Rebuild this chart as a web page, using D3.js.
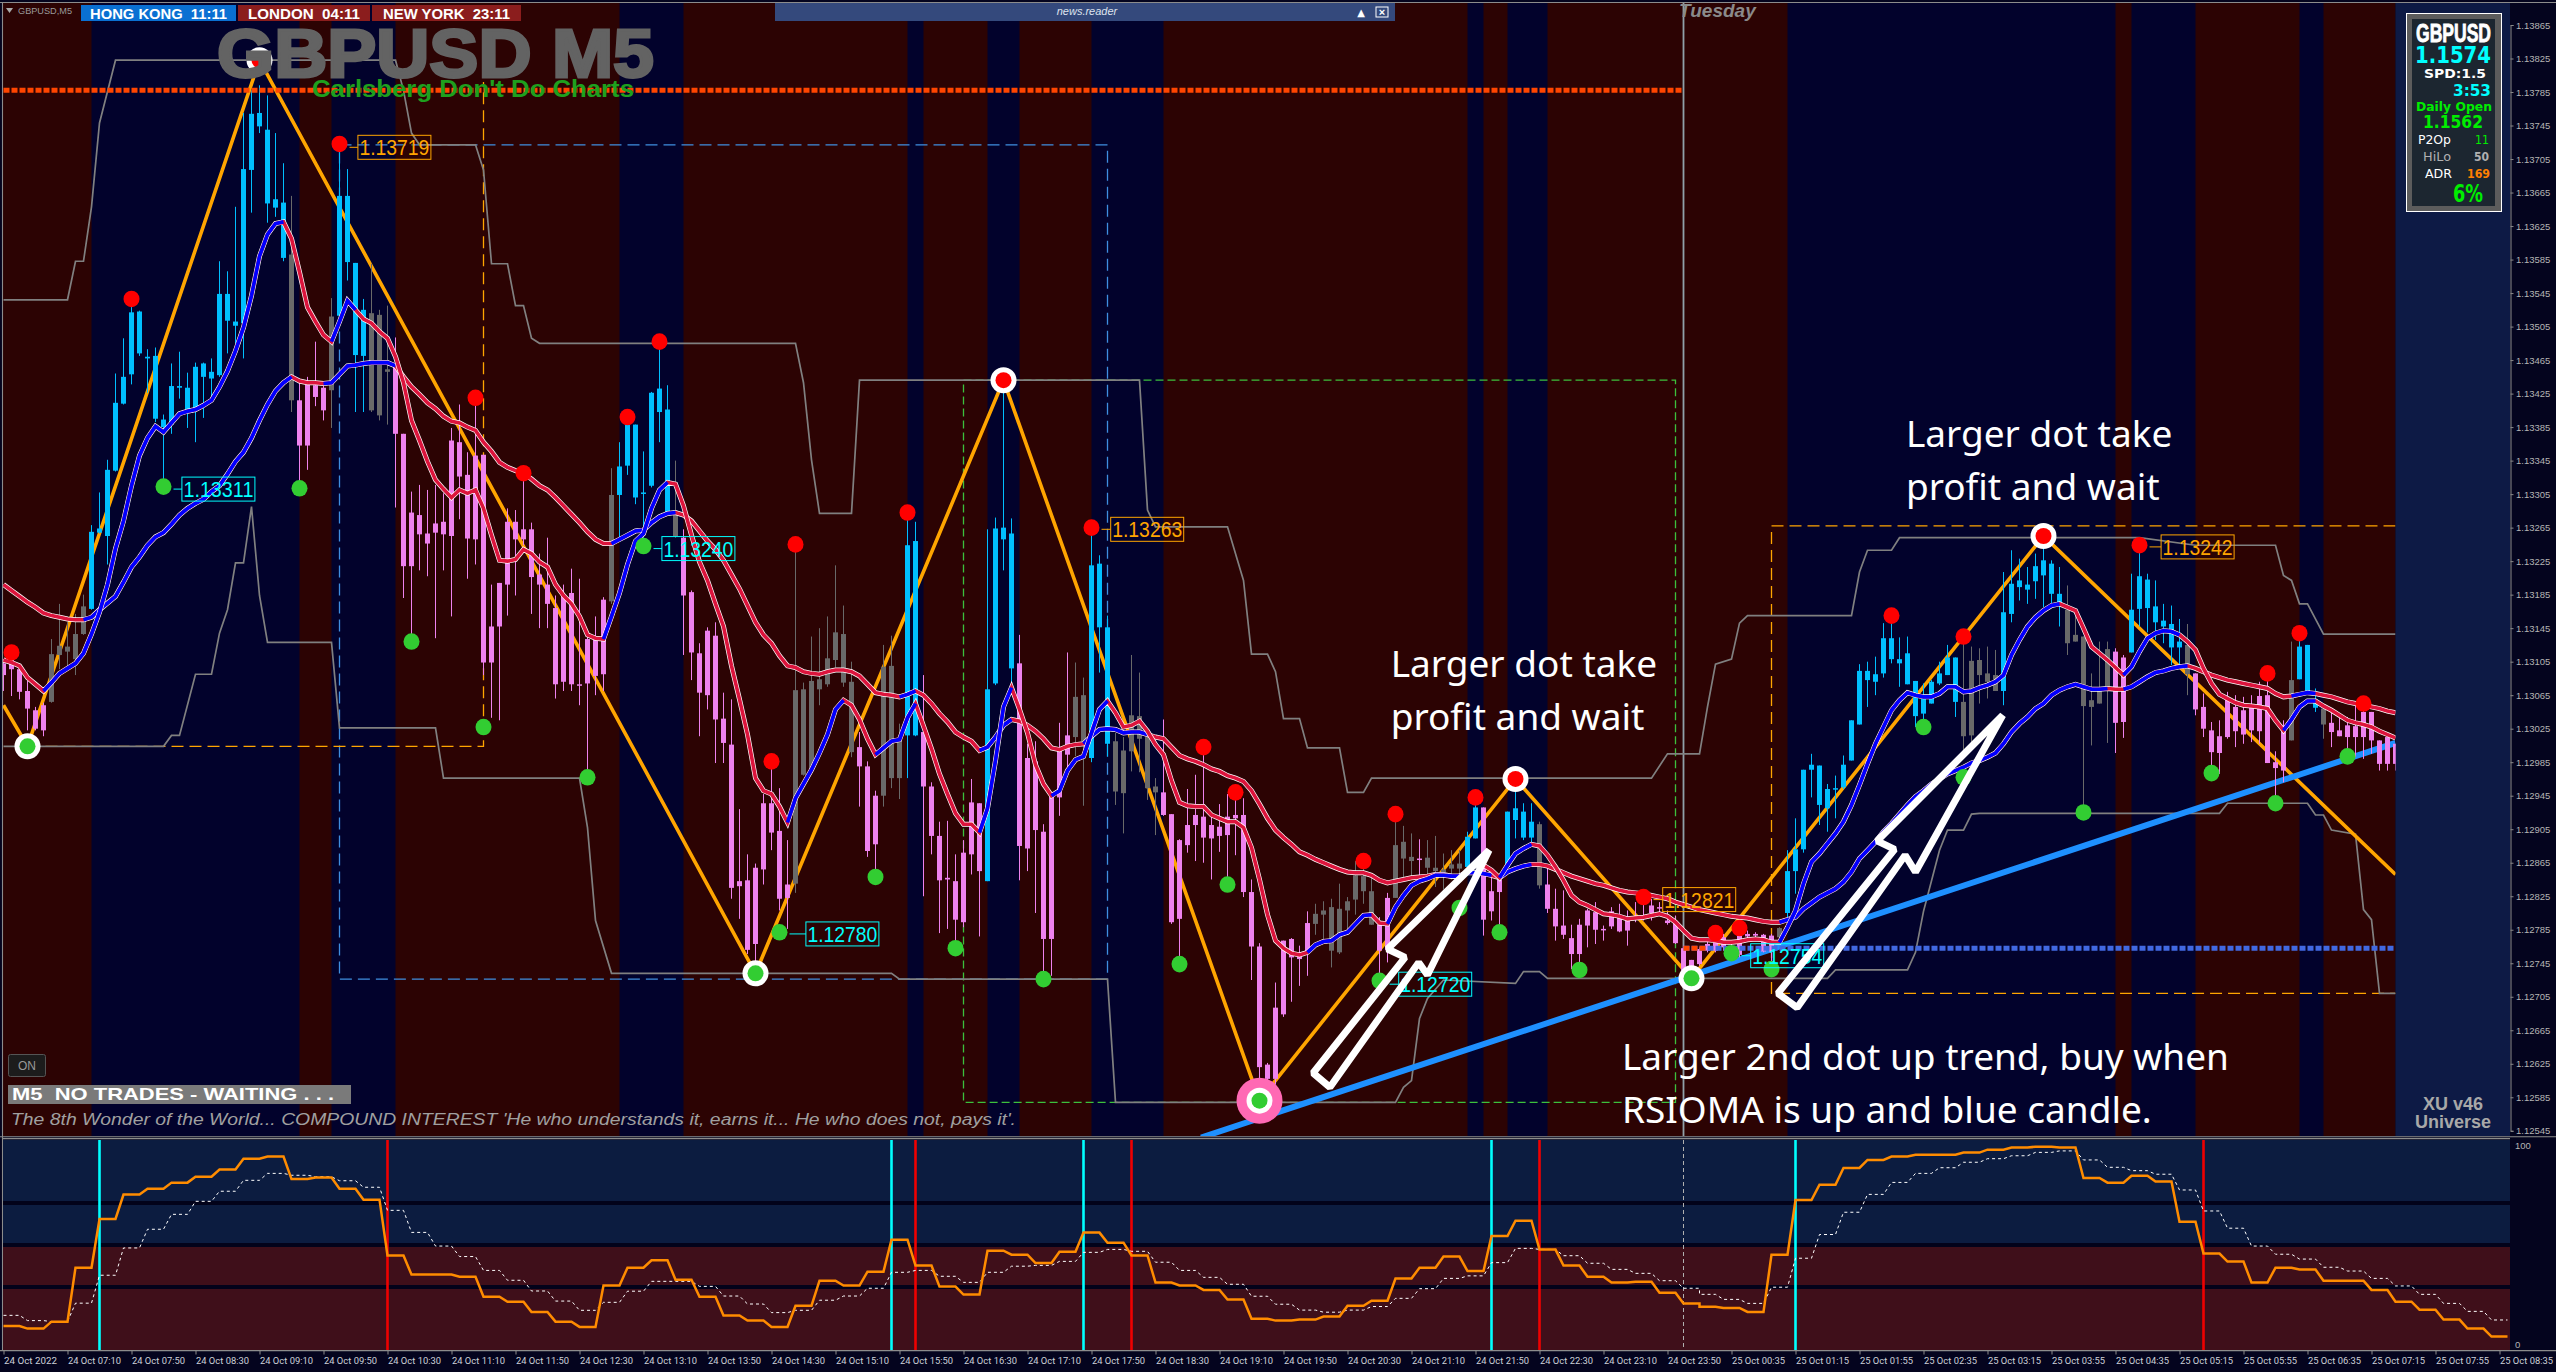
<!DOCTYPE html>
<html><head><meta charset="utf-8">
<script src="https://cdnjs.cloudflare.com/ajax/libs/d3/7.8.5/d3.min.js"></script>
<style>html,body{margin:0;padding:0;background:#04041e;overflow:hidden}svg{display:block}</style>
</head><body><svg id="c" width="2556" height="1372"></svg>
<script>
// All price arrays are in points above 1.10000 (1 point = 0.00001)
const bodyTop=[3103,3112,3096,3070,3047,3053,3114,3124,3123,3138,
3171,3260,3264,3334,3414,3445,3522,3523,3469,3470,
3394,3434,3434,3432,3457,3461,3451,3544,3544,3511,
3693,3759,3760,3740,3657,3653,3591,3417,3436,3435,
3432,3517,3661,3661,3581,3525,3521,3519,3454,3457,
3377,3283,3280,3258,3270,3272,3369,3367,3328,3351,
3352,3147,3199,3272,3272,3263,3263,3209,3197,3169,
3184,3187,3078,3132,3132,3179,3304,3338,3388,3388,
3307,3426,3431,3406,3283,3253,3188,3115,3142,3136,
3037,3006,2843,2844,2859,2936,2936,2903,2839,3071,
3072,3082,3084,3109,3140,3138,3081,3003,2980,2945,
3099,3100,3011,3244,3249,3021,2956,2897,2847,2843,
2877,2937,2936,3072,3264,3265,3258,3103,2990,2986,
2902,2944,3001,3017,3063,3065,3220,3222,3146,3010,
2999,3041,3040,3015,2956,2949,2923,2892,2910,2922,
2920,2910,2908,2920,2922,2922,2830,2765,2624,2692,
2772,2774,2758,2793,2804,2808,2812,2810,2819,2850,
2849,2831,2791,2823,2886,2890,2872,2870,2871,2859,
2857,2863,2864,2896,2931,2931,2831,2845,2926,2930,
2926,2914,2911,2839,2810,2790,2775,2791,2808,2806,
2786,2807,2800,2796,2799,2800,2814,2812,2796,2794,
2763,2749,2762,2768,2777,2776,2764,2778,2780,2780,
2779,2778,2787,2855,2881,2976,2982,2981,2953,2954,
2982,3035,3094,3094,3090,3133,3133,3108,3115,3082,
3061,3081,3091,3110,3110,3057,3106,3107,3091,3089,
3164,3198,3202,3197,3219,3226,3222,3186,3167,3137,
3135,3059,3072,3120,3117,3110,3167,3207,3203,3171,
3154,3150,3129,3125,3091,3051,3023,3016,3061,3051,
3047,3053,3064,3065,2985,3022,3083,3123,3125,3059,
3049,3032,3023,3029,3028,3045,3045,3011,3015,3007];
const bodyBottom=[3089,3096,3069,3049,3025,3023,3057,3113,3117,3108,
3138,3168,3259,3255,3333,3413,3448,3473,3467,3395,
3385,3388,3432,3406,3408,3445,3443,3447,3512,3506,
3509,3692,3744,3652,3647,3587,3417,3363,3363,3421,
3405,3429,3518,3582,3471,3470,3405,3399,3451,3377,
3219,3219,3257,3246,3259,3257,3255,3326,3252,3251,
3104,3104,3147,3197,3251,3251,3206,3197,3174,3078,
3081,3078,3077,3079,3088,3090,3177,3304,3339,3301,
3306,3315,3403,3283,3255,3184,3116,3068,3065,3036,
3008,2835,2837,2761,2768,2857,2901,2822,2823,2840,
2970,2976,3072,3078,3107,3080,2997,2980,2879,2887,
2945,2966,2966,3017,3017,2956,2897,2844,2845,2797,
2794,2875,2855,2843,3079,3251,3097,2885,2882,2904,
2774,2774,2943,2994,3015,3010,2990,3146,3007,2950,
2948,2998,3013,2954,2949,2922,2794,2798,2886,2910,
2895,2894,2897,2898,2918,2830,2765,2621,2607,2607,
2684,2752,2750,2757,2792,2803,2760,2758,2808,2821,
2831,2791,2760,2761,2823,2870,2867,2869,2859,2855,
2854,2858,2858,2860,2894,2797,2807,2830,2860,2916,
2895,2895,2838,2810,2789,2779,2756,2756,2790,2785,
2785,2789,2783,2784,2797,2798,2805,2811,2793,2769,
2736,2736,2744,2760,2760,2764,2755,2755,2777,2778,
2759,2759,2776,2805,2855,2881,2976,2934,2930,2953,
2955,2987,3030,3083,3081,3091,3108,3103,3078,3040,
3043,3055,3079,3089,3057,3016,3017,3089,3081,3070,
3070,3162,3194,3191,3201,3208,3186,3174,3127,3129,
3052,3051,3055,3071,3032,3033,3116,3168,3169,3152,
3147,3122,3122,3090,3048,3025,2997,2996,3015,3022,
3018,3023,3022,2984,2978,2975,3011,3084,3069,3050,
3030,3021,3016,3015,3015,3015,3011,2983,2983,2983];
const candleHigh=[3108,3116,3103,3082,3051,3056,3132,3174,3152,3162,
3185,3268,3307,3346,3449,3491,3537,3524,3478,3480,
3400,3461,3475,3450,3462,3462,3467,3583,3571,3648,
3760,3787,3793,3781,3736,3700,3661,3438,3445,3487,
3438,3539,3721,3693,3581,3538,3580,3525,3530,3492,
3377,3308,3316,3310,3316,3306,3384,3412,3355,3419,
3352,3197,3199,3288,3286,3328,3271,3234,3253,3184,
3197,3216,3204,3140,3159,3182,3336,3367,3395,3388,
3356,3427,3486,3435,3345,3263,3190,3127,3146,3152,
3068,3060,2929,2875,2864,2947,2986,2954,2892,3244,
3080,3135,3145,3159,3220,3172,3105,3021,2986,2951,
3125,3136,3031,3281,3272,3089,2961,2914,2915,2875,
2892,2965,2936,3263,3277,3444,3276,3137,3007,3010,
2911,2944,3032,3116,3104,3086,3265,3232,3160,3020,
3015,3113,3092,3015,2966,3036,2923,2893,2953,2970,
3001,2923,2935,2947,2949,2942,2845,2769,2626,2722,
2772,2775,2766,2807,2816,2819,2822,2840,2824,2867,
2867,2848,2800,2829,2921,2909,2900,2893,2892,2897,
2876,2880,2880,2902,2941,2931,2852,2848,2926,2963,
2936,2936,2914,2862,2834,2832,2791,2798,2810,2818,
2790,2812,2816,2808,2818,2832,2822,2818,2808,2802,
2766,2749,2764,2772,2780,2780,2772,2784,2784,2782,
2780,2780,2788,2880,2918,2976,2995,2981,2959,2969,
2993,3035,3102,3105,3111,3151,3160,3134,3135,3082,
3079,3083,3105,3125,3110,3135,3123,3121,3123,3119,
3212,3238,3228,3218,3234,3250,3226,3218,3196,3168,
3135,3091,3129,3129,3121,3113,3210,3244,3210,3202,
3174,3172,3156,3150,3091,3067,3033,3035,3069,3065,
3063,3065,3081,3095,2998,3035,3129,3139,3125,3073,
3053,3045,3039,3039,3053,3063,3045,3011,3015,3007];
const candleLow=[3070,3064,3060,3023,3023,3016,3056,3096,3099,3089,
3137,3167,3258,3221,3332,3412,3436,3470,3426,3391,
3313,3377,3419,3384,3367,3396,3419,3445,3473,3485,
3467,3641,3736,3629,3636,3583,3403,3315,3334,3410,
3393,3384,3509,3560,3403,3403,3403,3393,3388,3289,
3181,3133,3214,3207,3133,3214,3159,3275,3204,3221,
3089,3038,3035,3160,3184,3244,3162,3145,3145,3061,
3070,3070,3053,2976,3065,3070,3174,3249,3328,3293,
3253,3313,3367,3281,3253,3113,3083,3016,3048,2984,
2984,2822,2798,2756,2736,2839,2880,2808,2786,2829,
2969,2974,3053,3075,3098,3075,2991,2932,2872,2848,
2932,2954,2941,2966,3016,2825,2875,2781,2786,2763,
2788,2851,2777,2843,3077,3214,3074,2844,2855,2805,
2734,2730,2921,2969,2992,2933,2985,3092,2992,2934,
2900,2974,2973,2940,2898,2921,2792,2753,2877,2867,
2865,2845,2878,2848,2874,2824,2725,2593,2595,2600,
2681,2699,2718,2730,2779,2772,2740,2756,2779,2803,
2816,2791,2732,2746,2823,2848,2848,2850,2850,2836,
2833,2845,2848,2858,2894,2778,2796,2782,2852,2894,
2892,2888,2834,2805,2772,2774,2738,2738,2764,2768,
2772,2786,2782,2766,2794,2796,2796,2804,2791,2768,
2736,2727,2742,2758,2758,2760,2752,2752,2774,2774,
2758,2738,2772,2800,2828,2877,2943,2910,2902,2918,
2953,2987,3030,3051,3065,3086,3103,3075,3078,3027,
3023,3055,3077,3089,3039,2995,3007,3055,3061,3070,
3053,3152,3178,3174,3180,3170,3170,3147,3113,3129,
2924,3005,3055,3008,2996,3014,3116,3147,3140,3131,
3127,3101,3101,3065,3041,3015,2967,2971,3013,3003,
3007,3009,3007,2984,2936,2961,3011,3084,3069,3045,
3013,3003,3016,2987,2991,2989,2995,2975,2975,2975];
const candleTrendRuns=[["d",6],["n",5],["u",25],["n",1],["d",4],["n",1],["u",4],["n",3],["d",27],["n",1],["u",7],["n",1],["d",14],["n",8],["d",3],["n",3],["u",2],["d",8],["u",4],["d",7],["n",2],["u",3],["n",6],["d",19],["n",8],["d",2],["n",3],["d",1],["n",5],["u",2],["d",3],["u",4],["n",1],["d",29],["n",1],["u",22],["n",5],["u",8],["n",6],["d",2],["u",7],["n",1],["d",12],["n",1],["u",3],["n",1],["d",9]];
const fastMA=[3107,3104,3100,3086,3078,3070,3080,3091,3097,3103,
3115,3138,3164,3197,3240,3273,3315,3351,3372,3386,
3379,3390,3401,3404,3406,3411,3417,3433,3452,3476,
3504,3542,3589,3615,3628,3630,3610,3570,3528,3511,
3495,3487,3511,3536,3525,3514,3509,3499,3491,3469,
3438,3393,3369,3344,3322,3311,3301,3310,3306,3310,
3288,3256,3226,3225,3227,3239,3234,3224,3218,3197,
3184,3174,3159,3137,3133,3132,3159,3187,3221,3249,
3258,3288,3310,3319,3317,3291,3256,3224,3202,3174,
3147,3100,3060,3018,2966,2951,2947,2932,2913,2942,
2959,2976,2996,3018,3048,3059,3053,3036,3013,2994,
3002,3010,3012,3038,3055,3028,3001,2971,2947,2924,
2911,2911,2901,2930,2987,3051,3074,3048,3020,2982,
2959,2945,2951,2975,2988,2992,3020,3048,3058,3044,
3027,3029,3034,3022,3006,2994,2963,2937,2933,2932,
2932,2922,2918,2914,2914,2907,2883,2845,2803,2772,
2763,2757,2755,2758,2767,2771,2772,2779,2782,2792,
2802,2803,2793,2792,2812,2826,2838,2843,2846,2850,
2850,2849,2849,2854,2862,2862,2856,2847,2862,2876,
2882,2887,2885,2874,2860,2844,2826,2818,2814,2809,
2804,2803,2801,2798,2799,2800,2802,2804,2801,2794,
2784,2775,2773,2773,2772,2770,2770,2771,2773,2774,
2773,2770,2770,2788,2808,2840,2866,2876,2888,2900,
2914,2934,2958,2983,3007,3027,3047,3059,3068,3065,
3063,3063,3067,3075,3075,3069,3070,3074,3077,3081,
3089,3113,3131,3147,3158,3166,3172,3174,3170,3166,
3145,3123,3115,3107,3098,3089,3099,3117,3133,3139,
3142,3141,3137,3129,3119,3097,3079,3066,3061,3056,
3053,3052,3051,3049,3035,3023,3036,3051,3058,3058,
3052,3047,3041,3035,3032,3030,3027,3022,3018,3014];
const slowMA=[3197,3190,3183,3176,3170,3163,3160,3158,3156,3155,
3155,3158,3167,3175,3183,3200,3218,3230,3244,3254,
3259,3269,3280,3288,3294,3299,3308,3315,3329,3344,
3355,3372,3393,3412,3428,3438,3445,3440,3438,3438,
3437,3438,3448,3458,3459,3461,3462,3462,3462,3458,
3445,3433,3424,3414,3407,3398,3392,3390,3385,3381,
3367,3356,3343,3337,3333,3330,3323,3315,3310,3301,
3291,3281,3271,3260,3251,3246,3246,3251,3256,3261,
3262,3271,3278,3282,3283,3280,3273,3261,3249,3239,
3226,3209,3192,3172,3152,3137,3127,3112,3100,3098,
3093,3091,3090,3093,3095,3095,3093,3088,3078,3068,
3066,3065,3063,3066,3070,3065,3055,3043,3033,3021,
3015,3010,2999,3003,3015,3029,3036,3034,3029,3022,
3013,3002,3000,3004,3006,3007,3016,3024,3025,3024,
3020,3021,3021,3018,3015,3013,3003,2993,2989,2986,
2982,2977,2974,2969,2966,2962,2951,2935,2918,2904,
2895,2887,2878,2874,2869,2865,2861,2857,2854,2853,
2853,2850,2844,2841,2843,2845,2847,2848,2849,2851,
2851,2849,2849,2853,2853,2852,2850,2847,2854,2858,
2861,2863,2863,2861,2857,2853,2849,2846,2843,2840,
2838,2835,2832,2830,2829,2828,2826,2824,2822,2818,
2815,2812,2809,2807,2805,2803,2801,2800,2799,2797,
2795,2794,2794,2797,2800,2810,2817,2824,2829,2834,
2842,2854,2870,2880,2890,2902,2912,2923,2934,2944,
2951,2959,2965,2971,2975,2979,2984,2987,2991,2996,
3007,3021,3031,3039,3049,3055,3065,3071,3075,3078,
3075,3072,3072,3073,3072,3072,3075,3081,3087,3092,
3094,3097,3099,3100,3097,3093,3089,3086,3083,3081,
3079,3077,3075,3073,3067,3063,3064,3066,3068,3067,
3065,3063,3060,3057,3055,3053,3051,3049,3046,3044];
const fastUpSpans=[[5,35],[41,44],[75,83],[98,105],[109,114],[122,126],[131,138],[163,171],[173,185],[187,191],[222,257],[265,272],[285,289]];
const slowUpSpans=[[10,36],[40,49],[76,84],[112,114],[122,126],[135,143],[179,186],[187,191],[222,263],[265,273],[286,289]];
const upperBars=[0,8,9,10,11,12,14,49,50,51,52,59,60,61,63,64,65,66,67,99,100,101,102,106,107,142,143,144,153,155,156,158,159,160,162,163,167,168,170,171,206,208,212,213,214,216,217,218,231,232,233,236,237,267,274,284,285,286,287,288,290,299];
const upperPrice=[3537,3537,3583,3583,3648,3748,3823,3823,3787,3736,3722,3722,3692,3580,3580,3530,3530,3491,3485,3485,3438,3346,3282,3282,3441,3441,3286,3266,3266,3202,3114,3114,3093,3037,3037,3002,3002,2949,2949,2966,2966,2995,2995,3051,3102,3108,3151,3160,3160,3212,3238,3238,3253,3253,3244,3244,3208,3202,3174,3174,3138,3138];
const lowerBars=[0,20,21,22,24,26,27,28,29,30,31,32,33,41,42,54,55,72,73,74,76,111,112,138,139,174,175,176,177,178,180,189,190,192,193,228,229,238,239,240,242,243,245,246,247,277,278,288,289,290,291,294,295,296,297,299];
const lowerPrice=[3004,3004,3017,3017,3090,3090,3139,3167,3223,3223,3290,3184,3128,3128,3026,3026,2966,2966,2907,2796,2733,2733,2726,2726,2579,2579,2597,2605,2679,2703,2725,2721,2735,2735,2727,2727,2737,2737,2758,2807,2880,2904,2904,2923,2924,2924,2936,2936,2922,2922,2904,2899,2809,2797,2709,2709];
const zigzagBars=[0,3,32,94,125,157,189,211,255,299];
const zigzagPrice=[3053,3004,3823,2733,3441,2581,2965,2727,3255,2851];
const trendBars=[149.7,299], trendPrice=[2537,3008];
const redDotBars=[1,16,42,59,65,78,82,96,99,113,136,150,154,170,174,184,205,214,217,236,245,267,283,287,295];
const redDotPrice=[3116,3538,3723,3420,3330,3397,3487,2986,3245,3283,3265,3003,2949,2867,2923,2943,2824,2781,2787,3160,3135,3244,3091,3139,3055];
const greenDotBars=[20,37,51,60,73,80,97,109,119,130,147,153,172,182,187,197,216,221,240,245,260,276,284,293];
const greenDotPrice=[3314,3312,3129,3027,2967,3243,2782,2848,2763,2726,2744,2839,2724,2811,2782,2737,2757,2738,3027,2967,2925,2972,2936,2992];
const pivotBars=[3,32,94,125,157,189,211,255];
const pivotPrice=[3004,3823,2733,3441,2581,2965,2727,3255];
const pivotKind=["low","high","low","high","major","high","low","high"];
const labelValues=["1.13719","1.13311","1.13240","1.12780","1.13263","1.12720","1.12821","1.12754","1.13242"];
const labelKinds=["r","s","s","s","r","s","r","s","r"];
const labelBars=[44.3,22.3,82.3,100.3,138.4,174.4,207.4,218.4,269.7];
const labelDotBars=[42,20,80,97,136,172,205,216,267];
const navyBands=[[11,37],[41,49],[77,85],[113,115],[123,127],[136,145],[183,185],[188,193],[223,264],[266,274],[287,290]];
// dashed outlines as [bar, price] corner lists (open where the reference leaves a side undrawn)
const outlineBlue=[[42,3722],[138,3722],[138,2726],[42,2726],[42,3722]];
const outlineOrangeA=[[3,3004],[60,3004],[60,3797]];
const outlineGreen=[[120,3441],[209,3441],[209,2579],[120,2579],[120,3441]];
const outlineOrangeB=[[299,3267],[221,3267],[221,2709],[299,2709]];
const levelHigh=[0,210,3787], levelLow=[210,299,2763], levelMark=[210,213,2763];
const dayBreakBar=210;
const priceTicks=["1.13865","1.13825","1.13785","1.13745","1.13705","1.13665","1.13625","1.13585","1.13545","1.13505","1.13465","1.13425","1.13385","1.13345","1.13305","1.13265","1.13225","1.13185","1.13145","1.13105","1.13065","1.13025","1.12985","1.12945","1.12905","1.12865","1.12825","1.12785","1.12745","1.12705","1.12665","1.12625","1.12585","1.12545"];
const timeLabels=["24 Oct 2022","24 Oct 07:10","24 Oct 07:50","24 Oct 08:30","24 Oct 09:10","24 Oct 09:50","24 Oct 10:30","24 Oct 11:10","24 Oct 11:50","24 Oct 12:30","24 Oct 13:10","24 Oct 13:50","24 Oct 14:30","24 Oct 15:10","24 Oct 15:50","24 Oct 16:30","24 Oct 17:10","24 Oct 17:50","24 Oct 18:30","24 Oct 19:10","24 Oct 19:50","24 Oct 20:30","24 Oct 21:10","24 Oct 21:50","24 Oct 22:30","24 Oct 23:10","24 Oct 23:50","25 Oct 00:35","25 Oct 01:15","25 Oct 01:55","25 Oct 02:35","25 Oct 03:15","25 Oct 03:55","25 Oct 04:35","25 Oct 05:15","25 Oct 05:55","25 Oct 06:35","25 Oct 07:15","25 Oct 07:55","25 Oct 08:35"];
// RSIOMA panel: one reading per 15-minute step (3 bars); the second lists start after midnight's missing bar
const rsiDay1=[11.4,10.2,13.5,39.2,62.4,74,76.8,79.7,82.5,85.9,91.1,92.1,81.4,82.1,76.8,71.6,45,35.9,35.9,34.9,25.4,23,18.1,13.5,11,30.7,39.2,42.7,33.5,25.4,16.4,14,11,21.1,33,30.7,37.3,52.5,40.2,30.2,26.4,47.3,45.4,41.4,46.8,55.9,51.1,45,32.1,30.7,28.6,24,14.9,14,14.5,15.9,21.1,23.5,34,39.2,44.5,37.6,54.3,61.6,47.8,40.2,34.9,32.1,32.5,27.3,22.1];
const rsiDay2=[20.6,20,18.1,45.4,71.4,78.7,86.7,90.5,92.1,93,93,94,95.4,96.4,96.8,96.4,81.9,79.7,83,80.2,61.1,45.9,42.1,32.1,39.2,38.3,33,33,28.6,23,19.2,14.5,10.2,6.4];
const sigDay1=[16.5,14,13.5,22.3,35.6,48.6,57.5,64.6,70.8,75.6,80.8,84.1,83.2,82.5,80.6,77.5,66.5,56,49.5,44.5,37.9,33.2,28.1,23.3,18.9,22.7,28,32.7,32.7,30.3,25.7,21.9,17.8,18.9,23.7,25.7,29.4,37,37.9,35.1,32.2,37,39.9,40.3,42.2,46.5,47.9,47,41.8,37.9,34.6,31.3,25.6,21.8,19,18,19,20.7,24.6,29.2,34.1,35.3,41.6,48.4,47.9,44.9,41.3,38.4,36.5,33,29.4];
const sigDay2=[26.5,24.1,22.2,29.9,43.7,55,65.6,74.1,79.8,84.1,86.8,89.4,91.1,92.5,94.1,94.8,90.5,87,85.4,83.7,76.2,66.2,58,49.5,45.6,43.3,39.4,37.6,34.1,30.5,26.5,22.2,18.4,14.3];
const rsiLevels=[70,50,30];
const buySignalBars=[12,111,135,186,224], sellSignalBars=[48,114,141,192,275];
const notes=[["Larger dot take",173.4,3087],["profit and wait",173.4,3024],["Larger dot take",237.8,3361],["profit and wait",237.8,3298],["Larger 2nd dot up trend, buy when",202.3,2618],["RSIOMA is up and blue candle.",202.3,2554]];
const arrowOne=[[185.7,2880],[173,2762],[175.2,2752],[163.7,2614],[165.8,2597],[176.9,2746],[178,2731]];
const arrowTwo=[[249.9,3041],[234.2,2891],[236.4,2881],[221.8,2709],[224.2,2692],[237.7,2874],[239,2854]];

const svg=d3.select("#c");
const pointBase=1.1,pointSize=1e-5;
const toPrice=v=>pointBase+v*pointSize;
const x=d3.scaleLinear().domain([0,312]).range([3.5,2499.5]);
const y=d3.scaleLinear().domain([1.13865,1.12545]).range([25,1130.8]);
const py=v=>y(toPrice(v));
const r=d3.scaleLinear().domain([0,100]).range([1350,1140]);
const PANEL={l:3,t:3,rChart:2395.5,rAll:2510,b:1136};
const NAVY="#02022c",MAROON="#2c0303",RSIBLUE="#0c1c40",RSIRED="#3f0f1a",DEEP="#04041e";

const defs=svg.append("defs");
defs.append("clipPath").attr("id","main").append("rect").attr("x",PANEL.l).attr("y",PANEL.t).attr("width",PANEL.rChart-PANEL.l).attr("height",PANEL.b-PANEL.t);
defs.append("clipPath").attr("id","sub").append("rect").attr("x",PANEL.l).attr("y",1140).attr("width",PANEL.rAll-PANEL.l).attr("height",210);

// backgrounds
svg.append("rect").attr("width",2556).attr("height",1372).attr("fill",DEEP);
svg.append("rect").attr("x",PANEL.l).attr("y",PANEL.t).attr("width",PANEL.rChart-PANEL.l).attr("height",PANEL.b-PANEL.t).attr("fill",MAROON);
svg.append("rect").attr("x",PANEL.rChart).attr("y",PANEL.t).attr("width",PANEL.rAll-PANEL.rChart).attr("height",PANEL.b-PANEL.t).attr("fill","#0d1a45");
const main=svg.append("g").attr("clip-path","url(#main)");
main.selectAll("rect.band").data(navyBands).join("rect").attr("class","band").attr("x",d=>x(d[0])).attr("width",d=>x(d[1])-x(d[0])).attr("y",PANEL.t).attr("height",PANEL.b-PANEL.t).attr("fill",NAVY);

const lineXY=d3.line().x(d=>x(d[0])).y(d=>py(d[1]));
// dashed outlines
function outline(pts,col,dash){main.append("path").attr("d",lineXY(pts)).attr("fill","none").attr("stroke",col).attr("stroke-width",1.3).attr("stroke-dasharray",dash);}
outline(outlineBlue,"#3f8fe0","12,6");
outline(outlineOrangeA,"#ffa500","12,6");
outline(outlineGreen,"#3cc03c","8,4");
outline(outlineOrangeB,"#ffa500","12,6");

// day-break and levels
main.append("line").attr("x1",x(dayBreakBar)).attr("x2",x(dayBreakBar)).attr("y1",0).attr("y2",PANEL.b).attr("stroke","#8fa0a8").attr("stroke-width",1.8);
function level(l,col){main.append("line").attr("x1",x(l[0])).attr("x2",x(l[1])).attr("y1",py(l[2])).attr("y2",py(l[2])).attr("stroke",col).attr("stroke-width",5).attr("stroke-dasharray","6,2");}

// channels
main.append("path").attr("d",lineXY(upperBars.map((b,i)=>[b,upperPrice[i]]))).attr("fill","none").attr("stroke","#808080").attr("stroke-width",1.7);
main.append("path").attr("d",lineXY(lowerBars.map((b,i)=>[b,lowerPrice[i]]))).attr("fill","none").attr("stroke","#808080").attr("stroke-width",1.7);

// zigzag
main.append("path").attr("d",lineXY(zigzagBars.map((b,i)=>[b,zigzagPrice[i]]))).attr("fill","none").attr("stroke","#ffa500").attr("stroke-width",3.6);
// trend
main.append("path").attr("d",lineXY(trendBars.map((b,i)=>[b,trendPrice[i]]))).attr("fill","none").attr("stroke","#1e90ff").attr("stroke-width",6);

// candles
const trend=candleTrendRuns.flatMap(([s,n])=>d3.range(n).map(()=>s));
const candleCol={u:"#00bfff",d:"#ee82ee",n:"#696969"};
const candles=bodyTop.map((t,i)=>({i,t,b:bodyBottom[i],h:candleHigh[i],l:candleLow[i],s:trend[i]}));
main.selectAll("line.wick").data(candles).join("line").attr("class","wick").attr("x1",d=>x(d.i)).attr("x2",d=>x(d.i)).attr("y1",d=>py(d.h)).attr("y2",d=>py(d.l)).attr("stroke",d=>candleCol[d.s]).attr("stroke-width",1);
main.selectAll("rect.body").data(candles).join("rect").attr("class","body").attr("x",d=>x(d.i)-2.5).attr("width",5).attr("y",d=>py(d.t)).attr("height",d=>Math.max(1.5,py(d.b)-py(d.t))).attr("fill",d=>candleCol[d.s]);

level(levelHigh,"#ff4500");
level(levelLow,"#4169e1");
level(levelMark,"#ff4500");

// moving averages
function ma(vals,spans){
 const pts=vals.map((v,i)=>[i,v]);
 main.append("path").attr("d",lineXY(pts)).attr("fill","none").attr("stroke","#ffffff").attr("stroke-width",5);
 main.append("path").attr("d",lineXY(pts)).attr("fill","none").attr("stroke","#dc143c").attr("stroke-width",3.6);
 spans.forEach(s=>main.append("path").attr("d",lineXY(pts.slice(s[0],s[1]+1))).attr("fill","none").attr("stroke","#0000ff").attr("stroke-width",3.6));
}
ma(slowMA,slowUpSpans);
ma(fastMA,fastUpSpans);

// fractal dots
main.selectAll("ellipse.red").data(redDotBars).join("ellipse").attr("class","red").attr("cx",d=>x(d)).attr("cy",(d,i)=>py(redDotPrice[i])).attr("rx",8).attr("ry",8.3).attr("fill","#ff0000");
main.selectAll("ellipse.green").data(greenDotBars).join("ellipse").attr("class","green").attr("cx",d=>x(d)).attr("cy",(d,i)=>py(greenDotPrice[i])).attr("rx",8).attr("ry",8.3).attr("fill","#32cd32");
// labels
const labelCol={r:"#ffa500",s:"#00ffff"};
labelValues.forEach((t,i)=>{
 const lb=labelBars[i],k=labelKinds[i],v=+t,cy=y(v),bx=x(lb);
 main.append("line").attr("x1",x(labelDotBars[i])+10).attr("x2",bx).attr("y1",cy).attr("y2",cy).attr("stroke",labelCol[k]).attr("stroke-width",1);
 main.append("rect").attr("x",bx).attr("y",cy-12).attr("width",73).attr("height",24).attr("fill","none").attr("stroke",labelCol[k]).attr("stroke-width",1);
 main.append("text").attr("x",bx+1.5).attr("y",cy+8).attr("font-family","Liberation Sans").attr("font-size",22).attr("textLength",70).attr("lengthAdjust","spacingAndGlyphs").attr("fill",labelCol[k]).text(t);
});
// pivots
pivotBars.forEach((b,i)=>{
 const k=pivotKind[i],cx=x(b),cy=py(pivotPrice[i]);
 if(k==="major") main.append("circle").attr("cx",cx).attr("cy",cy).attr("r",23).attr("fill","#ff69b4");
 main.append("circle").attr("cx",cx).attr("cy",cy).attr("r",13).attr("fill","#ffffff");
 main.append("circle").attr("cx",cx).attr("cy",cy).attr("r",8).attr("fill",k==="high"?"#ff0000":"#32cd32");
});

// notes
main.selectAll("text.note").data(notes).join("text").attr("class","note").attr("x",d=>x(d[1])).attr("y",d=>py(d[2])).attr("font-family","Noto Sans").attr("font-size",37).attr("fill","#ffffff").text(d=>d[0]);
// arrows
[arrowOne,arrowTwo].forEach(a=>main.append("path").attr("d",d3.line().x(d=>x(d[0])).y(d=>py(d[1])).curve(d3.curveLinearClosed)(a)).attr("fill","none").attr("stroke","#ffffff").attr("stroke-width",7).attr("stroke-linejoin","bevel"));

// title overlays
svg.append("text").attr("x",217).attr("y",77).attr("font-family","Liberation Sans").attr("font-weight",700).attr("font-size",69).attr("textLength",437).attr("lengthAdjust","spacingAndGlyphs").attr("fill","#636363").attr("stroke","#636363").attr("stroke-width",3).text("GBPUSD M5");
svg.append("text").attr("x",312).attr("y",97).attr("font-family","Liberation Sans").attr("font-weight",700).attr("font-size",23).attr("textLength",322).attr("lengthAdjust","spacingAndGlyphs").attr("fill","#1ea01e").text("Carlsberg Don't Do Charts");
// session clocks
[["HONG KONG  11:11",81,155,137,"#0a70d2"],["LONDON  04:11",238,132,112,"#8b1d1d"],["NEW YORK  23:11",372,149,127,"#8b1d1d"]].forEach(d=>{
 svg.append("rect").attr("x",d[1]).attr("y",5).attr("width",d[2]).attr("height",16).attr("fill",d[4]);
 svg.append("text").attr("x",d[1]+d[2]/2).attr("y",18.5).attr("text-anchor","middle").attr("xml:space","preserve").attr("font-family","Liberation Sans").attr("font-weight",700).attr("font-size",15).attr("textLength",d[3]).attr("lengthAdjust","spacingAndGlyphs").attr("fill","#fff").text(d[0]);
});
svg.append("path").attr("d","M6 8 h7 l-3.5 5 z").attr("fill","#aaa");
svg.append("text").attr("x",18).attr("y",14).attr("font-family","Liberation Sans").attr("font-size",9.5).attr("textLength",54).attr("lengthAdjust","spacingAndGlyphs").attr("fill","#9a9a9a").text("GBPUSD,M5");
// news reader bar
svg.append("rect").attr("x",775).attr("y",3).attr("width",620).attr("height",18).attr("fill","#34497c");
svg.append("text").attr("x",1087).attr("y",15).attr("text-anchor","middle").attr("font-family","Liberation Sans").attr("font-style","italic").attr("font-size",11).attr("fill","#dfe4ee").text("news.reader");
svg.append("text").attr("x",1361).attr("y",16).attr("text-anchor","middle").attr("font-family","DejaVu Sans").attr("font-size",10).attr("fill","#fff").text("▲");
svg.append("rect").attr("x",1376).attr("y",7).attr("width",12).attr("height",10).attr("fill","none").attr("stroke","#fff");
svg.append("text").attr("x",1382).attr("y",16).attr("text-anchor","middle").attr("font-family","Liberation Sans").attr("font-weight",700).attr("font-size",11).attr("fill","#fff").text("×");
svg.append("text").attr("x",1679).attr("y",17).attr("font-family","Liberation Sans").attr("font-weight",700).attr("font-style","italic").attr("font-size",19).attr("fill","#8a8a8a").text("Tuesday");
// status
svg.append("rect").attr("x",8.5).attr("y",1054.5).attr("width",37).attr("height",22).attr("rx",2).attr("fill","#1c1c1c").attr("stroke","#555");
svg.append("text").attr("x",27).attr("y",1070).attr("text-anchor","middle").attr("font-family","Liberation Sans").attr("font-size",12).attr("fill","#999").text("ON");
svg.append("rect").attr("x",8).attr("y",1085).attr("width",343).attr("height",19).attr("fill","#7a7a7a");
svg.append("text").attr("x",12).attr("y",1100).attr("font-family","Liberation Sans").attr("font-weight",700).attr("font-size",17).attr("textLength",322).attr("lengthAdjust","spacingAndGlyphs").attr("xml:space","preserve").attr("fill","#fff").text("M5  NO TRADES - WAITING . . .");
svg.append("text").attr("x",11).attr("y",1125).attr("font-family","Liberation Sans").attr("font-style","italic").attr("font-size",16).attr("textLength",1005).attr("lengthAdjust","spacingAndGlyphs").attr("fill","#a0a0a0").text("The 8th Wonder of the World... COMPOUND INTEREST  'He who understands it, earns it... He who does not, pays it'.");
svg.append("text").attr("x",2453).attr("y",1110).attr("text-anchor","middle").attr("font-family","Liberation Sans").attr("font-weight",700).attr("font-size",18).attr("fill","#a8a8a8").text("XU v46");
svg.append("text").attr("x",2453).attr("y",1128).attr("text-anchor","middle").attr("font-family","Liberation Sans").attr("font-weight",700).attr("font-size",18).attr("fill","#a8a8a8").text("Universe");
// info panel
svg.append("rect").attr("x",2406.5).attr("y",13.5).attr("width",95).attr("height",198).attr("fill","#5c5c5c").attr("stroke","#fff");
svg.append("rect").attr("x",2412).attr("y",19).attr("width",83).attr("height",187).attr("fill","#1c2630");
const infoRows=[["GBPUSD",2416,42,"#fff",25,"Liberation Sans",700,75],["1.1574",2415,63,"#00ffff",23,"DejaVu Sans",700,76],["SPD:1.5",2424,78,"#fff",13,"DejaVu Sans",700,62],["3:53",2453,96,"#00ffff",16,"DejaVu Sans",700,38],["Daily Open",2416,110.5,"#00ee00",13,"DejaVu Sans",700,76],["1.1562",2423,128,"#00ee00",17,"DejaVu Sans",700,60],["P2Op",2418,144,"#fff",13,"DejaVu Sans",400,33],["11",2475,144,"#00ee00",13,"DejaVu Sans",400,14],["HiLo",2423,161,"#b0b0b0",13,"DejaVu Sans",400,28],["50",2474,161,"#b0b0b0",13,"DejaVu Sans",700,15],["ADR",2425,178,"#fff",13,"DejaVu Sans",400,27],["169",2467,178,"#ff8000",13,"DejaVu Sans",700,23],["6%",2453,202,"#00ee00",24,"DejaVu Sans",700,30]];
infoRows.forEach((d,i)=>svg.append("text").attr("x",d[1]).attr("y",d[2]).attr("fill",d[3]).attr("stroke",i===0?"#fff":"none").attr("stroke-width",i===0?0.8:0).attr("font-size",d[4]).attr("font-family",d[5]).attr("font-weight",d[6]).attr("textLength",d[7]).attr("lengthAdjust","spacingAndGlyphs").text(d[0]));

// price axis
const yAxis=d3.axisRight(y).tickValues(priceTicks.map(Number)).tickSize(3).tickFormat(d3.format(".5f"));
const ya=svg.append("g").attr("transform","translate(2510.5,0)").call(yAxis);
ya.select(".domain").attr("stroke","#8a8a8a");
ya.selectAll("line").attr("stroke","#8a8a8a");
ya.selectAll("text").attr("font-family","Liberation Sans").attr("font-size",9.5).attr("fill","#b4b4b4").attr("x",5.5);

// frame
[[0,2.5,2556,2.5],[2.5,2.5,2.5,1350],[0,1136.8,2556,1136.8],[3,1138.6,2510,1138.6],[0,1350.6,2556,1350.6]].forEach(l=>svg.append("line").attr("x1",l[0]).attr("y1",l[1]).attr("x2",l[2]).attr("y2",l[3]).attr("stroke","#8c8c8c").attr("stroke-width",1.1));

// RSIOMA panel
svg.append("rect").attr("x",3).attr("y",r(100)).attr("width",PANEL.rAll-3).attr("height",r(50)-r(100)).attr("fill",RSIBLUE);
svg.append("rect").attr("x",3).attr("y",r(50)).attr("width",PANEL.rAll-3).attr("height",r(0)-r(50)).attr("fill",RSIRED);
const sub=svg.append("g").attr("clip-path","url(#sub)");
sub.selectAll("line.lv").data(rsiLevels).join("line").attr("class","lv").attr("x1",3).attr("x2",PANEL.rAll).attr("y1",d=>r(d)).attr("y2",d=>r(d)).attr("stroke","#02021a").attr("stroke-width",4);
sub.append("line").attr("x1",x(dayBreakBar)).attr("x2",x(dayBreakBar)).attr("y1",1140).attr("y2",1350).attr("stroke","#b0b0b0").attr("stroke-width",1).attr("stroke-dasharray","4,3");
sub.selectAll("line.buy").data(buySignalBars).join("line").attr("class","buy").attr("x1",d=>x(d)).attr("x2",d=>x(d)).attr("y1",1140).attr("y2",1350).attr("stroke","#00ffff").attr("stroke-width",2.6);
sub.selectAll("line.sell").data(sellSignalBars).join("line").attr("class","sell").attr("x1",d=>x(d)).attr("x2",d=>x(d)).attr("y1",1140).attr("y2",1350).attr("stroke","#f00000").attr("stroke-width",2.6);
function stepped(a,b){
 const pts=[];
 a.forEach((v,i)=>{pts.push([3*i,v],[3*i+2,v]);});
 b.forEach((v,i)=>{pts.push([212+3*i,v],[212+3*i+2,v]);});
 return d3.line().x(d=>x(d[0])).y(d=>r(d[1]))(pts);
}
sub.append("path").attr("d",stepped(sigDay1,sigDay2)).attr("fill","none").attr("stroke","#ffffff").attr("stroke-width",1).attr("stroke-dasharray","3,3");
sub.append("path").attr("d",stepped(rsiDay1,rsiDay2)).attr("fill","none").attr("stroke","#ff8c00").attr("stroke-width",2.5);
svg.append("text").attr("x",2515).attr("y",1149).attr("font-family","Liberation Sans").attr("font-size",9.5).attr("fill","#b4b4b4").text("100");
svg.append("text").attr("x",2515).attr("y",1348).attr("font-family","Liberation Sans").attr("font-size",9.5).attr("fill","#b4b4b4").text("0");

// time axis
const timeTickBars=timeLabels.map((_,i)=>i*8);
const xAxis=d3.axisBottom(x).tickValues(timeTickBars).tickSize(4).tickFormat((d,i)=>timeLabels[i]);
const xa=svg.append("g").attr("transform","translate(0,1350.5)").call(xAxis);
xa.select(".domain").remove();
xa.selectAll("line").attr("stroke","#8c8c8c");
xa.selectAll("text").attr("text-anchor","start").attr("dy",0).attr("y",13).attr("font-family","Roboto").attr("font-size",9.5).attr("textLength",53).attr("lengthAdjust","spacingAndGlyphs").attr("fill","#ccd0d8");
</script></body></html>
